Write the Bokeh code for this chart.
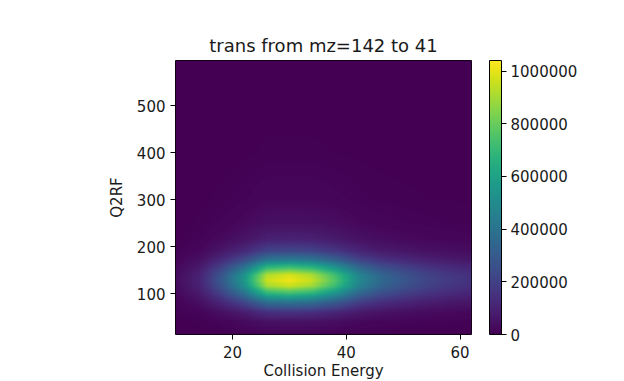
import numpy as np
from bokeh.plotting import figure
from bokeh.models import (LinearColorMapper, ColorBar, FixedTicker, Range1d,
                          BasicTickFormatter)
from bokeh.palettes import Viridis256
from bokeh.embed import file_html
from bokeh.resources import INLINE

# ---------------- data ----------------
chart_title = "trans from mz=142 to 41"
x_label = "Collision Energy"
y_label = "Q2RF"

# Collision energy sample positions (columns)
collision_energy = [10, 14, 18, 22, 26, 30, 34, 38, 42, 46, 50, 54, 58, 62]
# Q2RF sample positions (rows)
q2rf = [15, 40, 60, 80, 100, 115, 128, 140, 155, 170, 190, 215, 250, 300, 400, 595]
# intensity in thousands, one row per Q2RF value
intensity_k = [
    [0, 1, 3, 6, 10, 10, 10, 8, 5, 4, 3, 2, 2, 2],
    [2, 5, 14, 28, 48, 51, 49, 38, 25, 18, 14, 11, 9, 8],
    [5, 15, 42, 83, 144, 153, 143, 114, 75, 54, 42, 33, 27, 23],
    [11, 38, 106, 209, 365, 388, 361, 289, 190, 137, 106, 84, 68, 57],
    [21, 70, 196, 385, 672, 714, 665, 532, 350, 252, 196, 154, 126, 105],
    [28, 93, 260, 512, 893, 949, 883, 707, 465, 335, 260, 205, 167, 140],
    [30, 100, 280, 550, 960, 1020, 950, 760, 500, 360, 280, 220, 180, 150],
    [29, 95, 266, 523, 912, 969, 903, 722, 475, 342, 266, 209, 171, 143],
    [22, 72, 202, 396, 691, 734, 684, 547, 360, 259, 202, 158, 130, 108],
    [14, 45, 126, 248, 432, 459, 428, 342, 225, 162, 126, 99, 81, 68],
    [7, 22, 62, 121, 211, 224, 209, 167, 110, 79, 62, 48, 40, 33],
    [3, 10, 28, 55, 96, 102, 95, 76, 50, 36, 28, 22, 18, 15],
    [1, 5, 13, 25, 43, 46, 43, 34, 23, 16, 13, 10, 8, 7],
    [1, 2, 6, 11, 19, 20, 19, 15, 10, 7, 6, 4, 4, 3],
    [0, 1, 1, 3, 5, 5, 5, 4, 3, 2, 1, 1, 1, 1],
    [0, 0, 0, 0, 0, 0, 0, 0, 0, 0, 0, 0, 0, 0],
]
x_ticks = [20, 40, 60]
y_ticks = [100, 200, 300, 400, 500]
cbar_ticks = [0, 200000, 400000, 600000, 800000, 1000000]
x_extent = (10, 62)
y_extent = (13, 596)
c_max = 1040000

# ---------------- smooth display resampling (like imshow interpolation) ----------------
Z = np.array(intensity_k, dtype=float) * 1000.0
xs = np.array(collision_energy, dtype=float)
ys = np.array(q2rf, dtype=float)
fx = np.linspace(x_extent[0], x_extent[1], 300)
fy = np.linspace(y_extent[0], y_extent[1], 400)
tmp = np.array([np.interp(fx, xs, row) for row in Z])
img = np.array([np.interp(fy, ys, tmp[:, j]) for j in range(tmp.shape[1])]).T

FONT = "DejaVu Sans"
TXT = "#1a1a1a"

p = figure(frame_width=296, frame_height=274,
           x_range=Range1d(*x_extent), y_range=Range1d(*y_extent),
           output_backend="svg", toolbar_location=None,
           min_border_left=175, min_border_right=145,
           min_border_top=60, min_border_bottom=45,
           title=chart_title)

mapper = LinearColorMapper(palette=Viridis256, low=0, high=c_max)
p.image(image=[img], x=x_extent[0], y=y_extent[0],
        dw=x_extent[1] - x_extent[0], dh=y_extent[1] - y_extent[0],
        color_mapper=mapper)

p.title.text_font = FONT
p.title.text_font_size = "18px"
p.title.text_font_style = "normal"
p.title.align = "center"
p.title.text_color = TXT
p.title.standoff = 10

p.xgrid.visible = False
p.ygrid.visible = False
p.outline_line_color = "black"
p.outline_line_alpha = 1.0
p.outline_line_width = 1

for ax, ticks, lab in ((p.xaxis, x_ticks, x_label), (p.yaxis, y_ticks, y_label)):
    ax.ticker = FixedTicker(ticks=ticks)
    ax.minor_tick_line_color = None
    ax.major_tick_in = 0
    ax.major_tick_out = 5
    ax.major_tick_line_color = "black"
    ax.axis_line_color = None
    ax.major_label_text_font = FONT
    ax.major_label_text_font_size = "15px"
    ax.major_label_text_color = TXT
    ax.axis_label = lab
    ax.axis_label_text_font = FONT
    ax.axis_label_text_font_size = "15px"
    ax.axis_label_text_font_style = "normal"
    ax.axis_label_text_color = TXT
p.xaxis.major_label_standoff = 6
p.xaxis.axis_label_standoff = 1
p.yaxis.major_label_standoff = 5
p.yaxis.axis_label_standoff = 8

cbar = ColorBar(color_mapper=mapper, ticker=FixedTicker(ticks=cbar_ticks),
                formatter=BasicTickFormatter(use_scientific=False),
                width=12, height=274, padding=0, margin=0,
                location=(18, 0),
                major_tick_in=0, major_tick_out=5,
                major_tick_line_color="black",
                bar_line_color="black", bar_line_width=1,
                label_standoff=4,
                major_label_text_font=FONT,
                major_label_text_font_size="15px",
                major_label_text_color=TXT,
                background_fill_alpha=0)
p.add_layout(cbar, "right")

open("out.html", "w").write(file_html(p, INLINE))
